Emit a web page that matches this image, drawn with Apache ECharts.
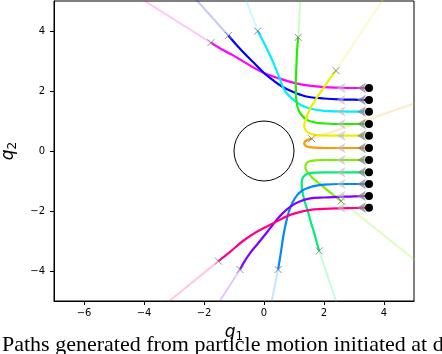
<!DOCTYPE html>
<html>
<head>
<meta charset="utf-8">
<script src="https://cdn.jsdelivr.net/npm/echarts@6/dist/echarts.min.js"></script>
<style>
html,body{margin:0;padding:0;background:#fff;}
#c{width:442px;height:354px;}
</style>
</head>
<body>
<div id="c"></div>
<script>
// ---- data ----
const xTicks = [-6, -4, -2, 0, 2, 4];
const yTicks = [-4, -2, 0, 2, 4];
const startX = 3.5;
const startY = [2.1, 1.7, 1.31, 0.9, 0.51, 0.1, -0.3, -0.71, -1.1, -1.5, -1.89];
const arrowX = [3.1, 2.42];
const obstacle = [[0, 0, 1]]; // centre x, centre y, radius

const pathMagenta = [[3.5,2.1],[3.0,2.1],[2.5,2.11],[2.0,2.13],[1.5,2.18],[1.0,2.27],[0.5,2.42],[0,2.6],[-0.5,2.87],[-1.0,3.17],[-1.43,3.4],[-1.77,3.61]];
const pathBlue = [[3.5,1.7],[3.0,1.71],[2.5,1.72],[2.0,1.75],[1.5,1.8],[1.2,1.88],[0.9,2.0],[0.6,2.15],[0.3,2.36],[0,2.6],[-0.3,2.9],[-0.6,3.2],[-0.9,3.52],[-1.19,3.85]];
const pathCyan = [[3.5,1.31],[3.0,1.31],[2.5,1.32],[2.0,1.34],[1.6,1.4],[1.3,1.5],[1.1,1.62],[0.9,1.78],[0.68,2.03],[0.5,2.48],[0.3,2.97],[0.1,3.4],[-0.05,3.7],[-0.21,4.0]];
const pathGreen = [[3.5,0.9],[3.0,0.9],[2.5,0.9],[2.0,0.92],[1.7,0.95],[1.45,1.03],[1.25,1.2],[1.12,1.45],[1.07,1.8],[1.06,2.3],[1.08,2.8],[1.1,3.3],[1.14,3.79]];
const pathYellow = [[3.5,0.51],[3.0,0.51],[2.5,0.51],[2.0,0.52],[1.7,0.54],[1.5,0.6],[1.38,0.7],[1.34,0.85],[1.4,1.05],[1.53,1.4],[1.75,1.76],[2.0,2.12],[2.2,2.42],[2.4,2.68]];
const pathOrange = [[3.5,0.1],[3.0,0.1],[2.5,0.1],[2.0,0.1],[1.7,0.11],[1.5,0.13],[1.38,0.18],[1.34,0.25],[1.38,0.33],[1.48,0.38],[1.59,0.41]];
const pathLime = [[3.5,-0.3],[3.0,-0.3],[2.5,-0.3],[2.0,-0.3],[1.7,-0.31],[1.5,-0.35],[1.4,-0.43],[1.38,-0.55],[1.45,-0.7],[1.6,-0.88],[1.8,-1.05],[2.0,-1.21],[2.2,-1.38],[2.4,-1.53],[2.57,-1.67]];
const pathSpring = [[3.5,-0.71],[3.0,-0.71],[2.5,-0.71],[2.0,-0.71],[1.7,-0.72],[1.45,-0.76],[1.32,-0.85],[1.26,-1.0],[1.26,-1.2],[1.29,-1.4],[1.36,-1.7],[1.46,-2.0],[1.57,-2.4],[1.68,-2.76],[1.76,-3.05],[1.84,-3.33]];
const pathAzure = [[3.5,-1.1],[3.0,-1.1],[2.5,-1.1],[2.0,-1.12],[1.7,-1.16],[1.5,-1.22],[1.3,-1.3],[1.1,-1.48],[0.95,-1.72],[0.82,-2.05],[0.72,-2.45],[0.64,-2.86],[0.56,-3.4],[0.47,-3.95]];
const pathViolet = [[3.5,-1.5],[3.0,-1.51],[2.5,-1.53],[2.0,-1.55],[1.5,-1.59],[1.15,-1.7],[0.87,-1.86],[0.62,-2.08],[0.42,-2.3],[0.2,-2.58],[-0.02,-2.86],[-0.25,-3.14],[-0.47,-3.41],[-0.65,-3.68],[-0.8,-3.95]];
const pathRose = [[3.5,-1.89],[3.0,-1.9],[2.5,-1.91],[2.0,-1.93],[1.5,-1.97],[0.87,-2.13],[0.31,-2.41],[-0.24,-2.69],[-0.7,-3.0],[-1.13,-3.36],[-1.52,-3.67]];

const tailMagenta = [[-1.77,3.61],[-4.5,5.33]];
const tailBlue = [[-1.19,3.85],[-2.4,5.2]];
const tailCyan = [[-0.21,4.0],[-0.7,5.3]];
const tailGreen = [[1.14,3.79],[1.23,5.3]];
const tailYellow = [[2.4,2.68],[4.2,5.4]];
const tailOrange = [[1.59,0.41],[5.5,1.75]];
const tailLime = [[2.57,-1.67],[5.3,-3.85]];
const tailSpring = [[1.84,-3.33],[2.5,-5.3]];
const tailAzure = [[0.47,-3.95],[0.2,-5.3]];
const tailViolet = [[-0.8,-3.95],[-1.6,-5.2]];
const tailRose = [[-1.52,-3.67],[-3.4,-5.2]];

// ---- styling ----
const paths = [pathMagenta, pathBlue, pathCyan, pathGreen, pathYellow, pathOrange, pathLime, pathSpring, pathAzure, pathViolet, pathRose];
const tails = [tailMagenta, tailBlue, tailCyan, tailGreen, tailYellow, tailOrange, tailLime, tailSpring, tailAzure, tailViolet, tailRose];
const colors = ['#ff00ff', '#0000ff', '#00eeff', '#22ee00', '#eeee00', '#ff9900', '#80ee00', '#00ee77', '#0088ff', '#8000ff', '#ff0088'];

const series = [];
tails.forEach((t, i) => series.push({
  type: 'line', data: t, symbol: 'none', z: 1, silent: true,
  lineStyle: { color: colors[i], width: 2, opacity: 0.22 }
}));
paths.forEach((p, i) => series.push({
  type: 'line', data: p, symbol: 'none', smooth: 0.4, z: 2, silent: true,
  lineStyle: { color: colors[i], width: 2.2 }
}));
series.push({
  type: 'scatter', z: 4, silent: true,
  symbol: 'path://M0,0L10,10M10,0L0,10', symbolSize: 7,
  itemStyle: { color: 'none', borderColor: '#777', borderWidth: 1 },
  data: paths.map(p => p[p.length - 1])
});
arrowX.forEach((ax, k) => series.push({
  type: 'scatter', z: 5, silent: true,
  symbol: 'arrow', symbolRotate: 90, symbolSize: [8, 9],
  itemStyle: { color: k === 0 ? '#888' : '#bbb', opacity: k === 0 ? 0.75 : 0.6 },
  data: startY.map(y => [ax, y])
}));
series.push({
  type: 'scatter', z: 6, silent: true, symbol: 'circle', symbolSize: 8,
  itemStyle: { color: '#000', opacity: 1 },
  data: startY.map(y => [startX, y])
});
series.push({
  type: 'custom', z: 3, silent: true, data: obstacle,
  renderItem: function (params, api) {
    const c = api.coord([api.value(0), api.value(1)]);
    const r = api.size([api.value(2), 0])[0];
    return { type: 'circle', shape: { cx: c[0], cy: c[1], r: r },
      style: { fill: 'none', stroke: '#000', lineWidth: 1 } };
  }
});

const tickFmt = v => String(v).replace('-', '\u2212');
const axisCommon = {
  type: 'value', splitLine: { show: false },
  axisLine: { show: true, onZero: false, lineStyle: { color: '#000', width: 1 } },
  axisTick: { show: true, length: 4, lineStyle: { color: '#000' } },
  nameLocation: 'middle'
};

const chart = echarts.init(document.getElementById('c'), null, { renderer: 'canvas' });
chart.setOption({
  animation: false,
  backgroundColor: '#fff',
  grid: { left: 54, top: 1, width: 360, height: 300, outerBoundsMode: 'none', containLabel: false,
    show: true, borderColor: '#000', borderWidth: 1, backgroundColor: 'transparent' },
  xAxis: Object.assign({}, axisCommon, {
    min: -7, max: 5,
    axisTick: Object.assign({}, axisCommon.axisTick, { customValues: xTicks }),
    axisLabel: { customValues: xTicks, formatter: tickFmt, fontFamily: 'DejaVu Sans', fontSize: 10, color: '#000', margin: 7 },
    name: '{q|q}{s|1}', nameGap: 21,
    nameTextStyle: { rich: {
      q: { fontFamily: 'DejaVu Sans', fontStyle: 'italic', fontSize: 17, color: '#000' },
      s: { fontFamily: 'DejaVu Sans', fontSize: 12, color: '#000', padding: [9, 0, 0, 0] }
    } }
  }),
  yAxis: Object.assign({}, axisCommon, {
    min: -5, max: 5,
    axisTick: Object.assign({}, axisCommon.axisTick, { customValues: yTicks }),
    axisLabel: { customValues: yTicks, formatter: tickFmt, fontFamily: 'DejaVu Sans', fontSize: 10, color: '#000', margin: 9 },
    name: '{q|q}{s|2}', nameGap: 27,
    nameTextStyle: { rich: {
      q: { fontFamily: 'DejaVu Sans', fontStyle: 'italic', fontSize: 17, color: '#000' },
      s: { fontFamily: 'DejaVu Sans', fontSize: 12, color: '#000', padding: [9, 0, 0, 0] }
    } }
  }),
  graphic: [{
    type: 'text', left: 2, top: 334, silent: true,
    style: { text: 'Paths generated from particle motion initiated at d', font: '22px "Liberation Serif"', fill: '#000' }
  }],
  series: series
});
</script>
</body>
</html>
